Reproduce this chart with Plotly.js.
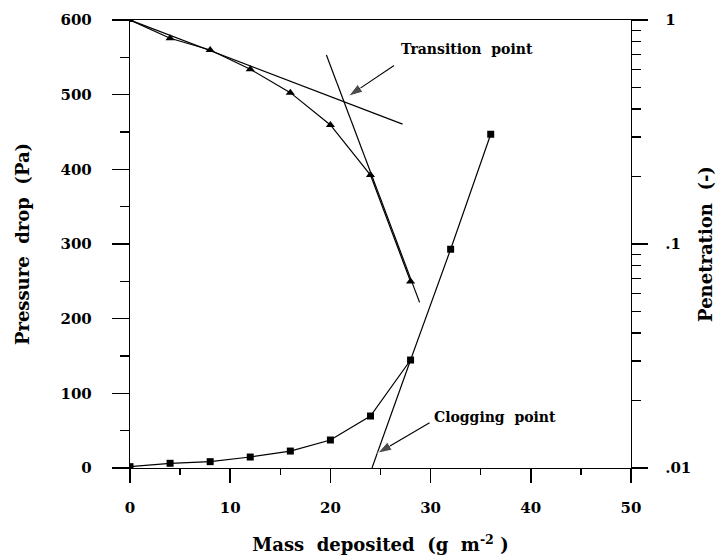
<!DOCTYPE html>
<html>
<head>
<meta charset="utf-8">
<script src="https://cdn.plot.ly/plotly-3.0.1.min.js"></script>
<style>html,body{margin:0;padding:0;background:#fff;}#chart{width:716px;height:557px;}</style>
</head>
<body>
<div id="chart"></div>
<script>
// Pressure drop (left axis, squares)
var massSquares = [0, 4, 8, 12, 16, 20, 24, 28, 32, 36];
var pressureDrop = [1.8, 6.3, 8.5, 14.7, 22.7, 37.5, 69.6, 144.6, 293, 447];

// Penetration (right log axis, triangles)
var massTriangles = [0, 4, 8, 12, 16, 20, 24, 28];
var penetration = [1, 0.829, 0.735, 0.603, 0.474, 0.34, 0.203, 0.068];

// Fitted straight lines
var transFit1Mass = [0, 27.2];
var transFit1Pen = [1, 0.343];
var transFit2Mass = [19.6, 28.9];
var transFit2Pen = [0.698, 0.0549];
var clogFitMass = [24.15, 28];
var clogFitPressure = [0, 144.6];

// Annotation arrows (tail -> head, in left-axis units)
var transArrowMass = [26.35, 21.8];
var transArrowPressure = [539, 498];
var clogArrowMass = [29.9, 24.7];
var clogArrowPressure = [60.7, 19.7];

// Tick labels
var penTickVals = [0.01, 0.1, 1];
var penTickText = ['.01', '.1', '1'];
var penMinorVals = [0.02,0.03,0.04,0.05,0.06,0.07,0.08,0.09,0.2,0.3,0.4,0.5,0.6,0.7,0.8,0.9];

var nb = '\u00a0';
var serif = 'DejaVu Serif, Liberation Serif, serif';
var lineStyle = {color: 'black', width: 1.2};
var arrowMarker = {symbol: ['circle', 'arrow'], size: [0, 15], color: 'black', angleref: 'previous'};

var traces = [
  {x: massSquares, y: pressureDrop, type: 'scatter', mode: 'lines+markers',
   line: lineStyle, marker: {symbol: 'square', size: 7, color: 'black'}, yaxis: 'y', showlegend: false},
  {x: clogFitMass, y: clogFitPressure, type: 'scatter', mode: 'lines', line: lineStyle, yaxis: 'y', showlegend: false},
  {x: massTriangles, y: penetration, type: 'scatter', mode: 'lines+markers',
   line: lineStyle, marker: {symbol: 'triangle-up', size: 8, color: 'black'}, yaxis: 'y2', showlegend: false},
  {x: transFit1Mass, y: transFit1Pen, type: 'scatter', mode: 'lines', line: lineStyle, yaxis: 'y2', showlegend: false},
  {x: transFit2Mass, y: transFit2Pen, type: 'scatter', mode: 'lines', line: lineStyle, yaxis: 'y2', showlegend: false},
  {x: transArrowMass, y: transArrowPressure, type: 'scatter', mode: 'lines+markers',
   line: {color: 'black', width: 1.1}, marker: arrowMarker, yaxis: 'y', showlegend: false},
  {x: clogArrowMass, y: clogArrowPressure, type: 'scatter', mode: 'lines+markers',
   line: {color: 'black', width: 1.1}, marker: arrowMarker, yaxis: 'y', showlegend: false}
];

var tickFont = {family: serif, size: 15, color: 'black', weight: 'bold'};
var titleFont = {family: serif, size: 18, color: 'black', weight: 'bold'};
var annFont = {family: serif, size: 14, color: 'black', weight: 'bold'};

var layout = {
  width: 716, height: 557,
  margin: {l: 129.5, r: 85, t: 20, b: 89},
  paper_bgcolor: 'white', plot_bgcolor: 'white',
  showlegend: false,
  xaxis: {
    range: [0, 50], dtick: 10, tick0: 0, showgrid: false, zeroline: false,
    showline: true, mirror: true, linecolor: 'black', linewidth: 1.2,
    ticks: 'outside', ticklen: 14, tickwidth: 1.5, tickcolor: 'black',
    minor: {dtick: 5, ticks: 'outside', ticklen: 6, tickwidth: 1.3, tickcolor: 'black', showgrid: false},
    tickfont: tickFont, ticklabelstandoff: 12,
    title: {text: 'Mass' + nb + nb + 'deposited' + nb + nb + '(g' + nb + nb + 'm<sup>-2</sup>' + nb + ')', font: titleFont, standoff: 22}
  },
  yaxis: {
    range: [0, 600], dtick: 100, tick0: 0, showgrid: false, zeroline: false,
    showline: true, linecolor: 'black', linewidth: 1.2,
    ticks: 'outside', ticklen: 17, tickwidth: 1.5, tickcolor: 'black',
    minor: {dtick: 50, ticks: 'outside', ticklen: 9, tickwidth: 1.3, tickcolor: 'black', showgrid: false},
    tickfont: tickFont, ticklabelstandoff: 17,
    title: {text: 'Pressure' + nb + nb + 'drop' + nb + nb + '(Pa)', font: titleFont, standoff: 26}
  },
  yaxis2: {
    type: 'log', range: [-2, 0], overlaying: 'y', side: 'right',
    showgrid: false, zeroline: false, showline: true, linecolor: 'black', linewidth: 1.2,
    tickmode: 'array', tickvals: penTickVals, ticktext: penTickText,
    ticks: 'outside', ticklen: 16, tickwidth: 1.5, tickcolor: 'black',
    minor: {tickmode: 'array', tickvals: penMinorVals, ticks: 'outside', ticklen: 9, tickwidth: 1.3, tickcolor: 'black', showgrid: false},
    tickfont: tickFont, ticklabelstandoff: 14,
    title: {text: 'Penetration' + nb + nb + '(-)', font: titleFont, standoff: 18}
  },
  annotations: [
    {x: 33.6, y: 560.7, xref: 'x', yref: 'y', text: 'Transition' + nb + nb + 'point', showarrow: false, font: annFont},
    {x: 36.4, y: 68.6, xref: 'x', yref: 'y', text: 'Clogging' + nb + nb + 'point', showarrow: false, font: annFont}
  ]
};

Plotly.newPlot('chart', traces, layout, {displayModeBar: false, staticPlot: true});
</script>
</body>
</html>
